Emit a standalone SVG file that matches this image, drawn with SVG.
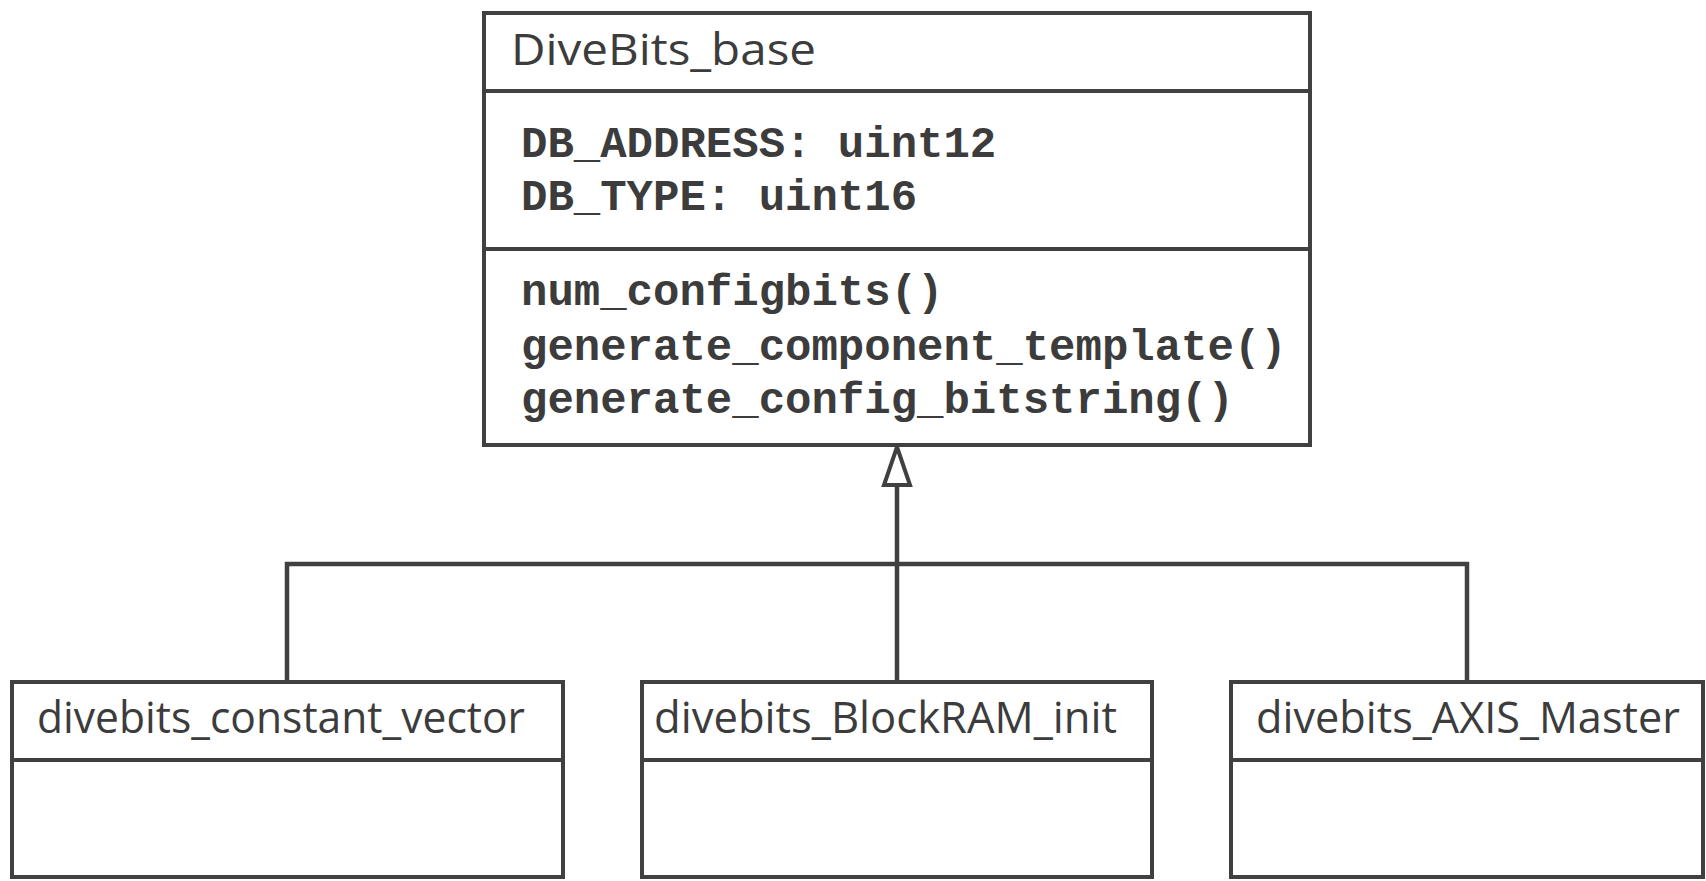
<svg xmlns="http://www.w3.org/2000/svg" width="1706" height="881" viewBox="0 0 1706 881">
<style>
.box{fill:#ffffff;stroke:#404040;stroke-width:4}
.div{stroke:#404040;stroke-width:4}
.conn{fill:none;stroke:#404040;stroke-width:4.5}
.sans{font-family:"Open Sans","Noto Sans","Liberation Sans",sans-serif;font-size:44px;fill:#3c3c3c}
.mono{font-family:"Liberation Mono","Courier New",monospace;font-weight:bold;font-size:44px;fill:#3c3c3c}
</style>
<rect width="1706" height="881" fill="#ffffff"/>
<g id="connectors">
<polyline class="conn" points="897,485 897,682"/>
<polyline class="conn" points="287,682 287,564 1467,564 1467,682"/>
<polygon points="897,447 884,485 910,485" fill="#ffffff" stroke="#404040" stroke-width="4" stroke-linejoin="miter"/>
</g>
<g id="DiveBits_base">
<rect class="box" x="484" y="13" width="826" height="432"/>
<line class="div" x1="484" y1="91" x2="1310" y2="91"/>
<line class="div" x1="484" y1="249" x2="1310" y2="249"/>
<text class="sans" x="511" y="65" font-size="46" textLength="305" lengthAdjust="spacingAndGlyphs">DiveBits_base</text>
<text class="mono" x="521" y="157">DB_ADDRESS: uint12</text>
<text class="mono" x="521" y="210">DB_TYPE: uint16</text>
<text class="mono" x="521" y="305">num_configbits()</text>
<text class="mono" x="521" y="360">generate_component_template()</text>
<text class="mono" x="521" y="413">generate_config_bitstring()</text>
</g>
<g id="divebits_constant_vector">
<rect class="box" x="12" y="682" width="551" height="195"/>
<line class="div" x1="12" y1="760" x2="563" y2="760"/>
<text class="sans" x="37" y="733" textLength="488" lengthAdjust="spacingAndGlyphs">divebits_constant_vector</text>
</g>
<g id="divebits_BlockRAM_init">
<rect class="box" x="642" y="682" width="510" height="195"/>
<line class="div" x1="642" y1="760" x2="1152" y2="760"/>
<text class="sans" x="654" y="733" textLength="463" lengthAdjust="spacingAndGlyphs">divebits_BlockRAM_init</text>
</g>
<g id="divebits_AXIS_Master">
<rect class="box" x="1231" y="682" width="472" height="195"/>
<line class="div" x1="1231" y1="760" x2="1703" y2="760"/>
<text class="sans" x="1256" y="733" textLength="424" lengthAdjust="spacingAndGlyphs">divebits_AXIS_Master</text>
</g>
</svg>
